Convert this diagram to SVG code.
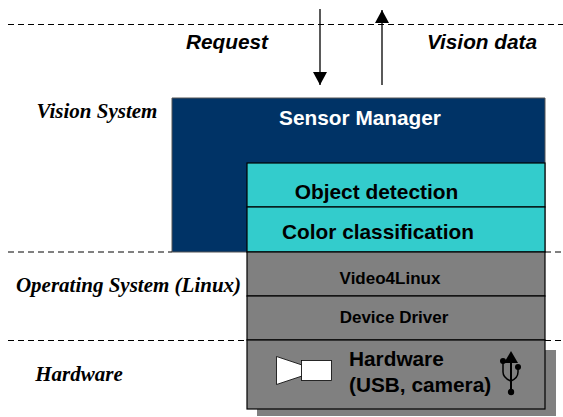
<svg xmlns="http://www.w3.org/2000/svg" width="563" height="417" viewBox="0 0 563 417">
<style>
.sans{font-family:"Liberation Sans",Arial,sans-serif;font-weight:bold;text-anchor:middle}
.serif{font-family:"Liberation Serif","Times New Roman",serif;font-weight:bold;font-style:italic;font-size:21px;text-anchor:middle;fill:#000}
.dash{stroke:#000;stroke-width:1;stroke-dasharray:6 4;fill:none}
.box{stroke:#000;stroke-width:1.200}
.gray{fill:#808080}
.teal{fill:#33cccc}
</style>
<defs>
<marker id="arrow" markerUnits="userSpaceOnUse" markerWidth="14" markerHeight="14" refX="13" refY="7" orient="auto"><path d="M0 0L13 7L0 14Z" fill="#000"/></marker>
</defs>
<rect width="563" height="417" fill="#fff"/>
<rect id="shadow" x="257" y="350" width="299" height="66" fill="#808080"/>
<g id="sensor-manager">
<path d="M172 98H545V252H172Z" fill="#003366" stroke="#555" stroke-width="1"/>
<text class="sans" x="360" y="125" font-size="20.800" fill="#fff">Sensor Manager</text>
</g>
<g id="object-detection">
<rect class="box teal" x="247" y="163" width="298" height="44"/>
<text class="sans" x="376.500" y="199" font-size="20.900">Object detection</text>
</g>
<g id="color-classification">
<rect class="box teal" x="247" y="207" width="298" height="45"/>
<text class="sans" x="378" y="239" font-size="20.800">Color classification</text>
</g>
<g id="video4linux">
<rect class="box gray" x="247" y="252" width="298" height="44"/>
<text class="sans" x="390" y="284" font-size="17">Video4Linux</text>
</g>
<g id="device-driver">
<rect class="box gray" x="247" y="296" width="298" height="44"/>
<text class="sans" x="394" y="323" font-size="17">Device Driver</text>
</g>
<g id="hardware">
<rect class="box gray" x="247" y="340" width="298" height="69"/>
<text class="sans" x="349" y="366" font-size="20.800" style="text-anchor:start">Hardware</text>
<text class="sans" x="349" y="392" font-size="20.800" style="text-anchor:start">(USB, camera)</text>
<g id="camera" fill="#fff" stroke="#000" stroke-width="0.800">
<path d="M276.500 356.500L302 365V376L276.500 384.500Z"/>
<rect x="301.500" y="360.500" width="30" height="20"/>
</g>
<g id="usb" fill="#000" stroke="#000">
<path d="M511 362V392" stroke-width="2" fill="none"/>
<path d="M503 361V372Q503 378 511 381M518 366V372Q518 378 511 381" stroke-width="1.500" fill="none"/>
<path d="M511 351L518 363H504Z" stroke="none"/>
<circle cx="503" cy="361" r="3" stroke="none"/>
<circle cx="518" cy="367" r="3" stroke="none"/>
<circle cx="511" cy="392" r="3.200" stroke="none"/>
</g>
</g>
<g id="connectors">
<path class="dash" d="M8 24.500H563"/>
<path class="dash" d="M8 252H172M545 252H563"/>
<path class="dash" d="M8 340.500H247M545 340.500H563"/>
<path d="M320 9V85" stroke="#000" stroke-width="1.300" fill="none" marker-end="url(#arrow)"/>
<path d="M382 85V10" stroke="#000" stroke-width="1.300" fill="none" marker-end="url(#arrow)"/>
</g>
<g id="labels">
<text class="sans" x="227" y="49" font-size="20.800" font-style="italic">Request</text>
<text class="sans" x="482" y="49" font-size="20.800" font-style="italic">Vision data</text>
<text class="serif" x="97" y="118">Vision System</text>
<text class="serif" x="128.500" y="292">Operating System (Linux)</text>
<text class="serif" x="79" y="381">Hardware</text>
</g>
</svg>
